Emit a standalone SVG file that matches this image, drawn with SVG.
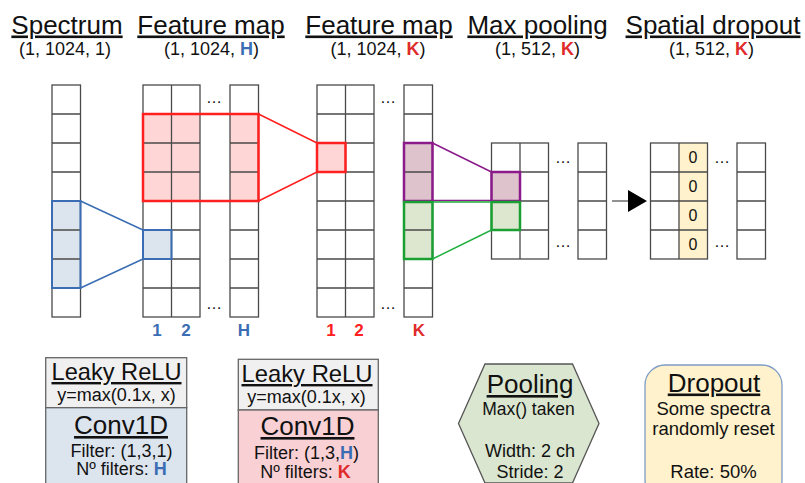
<svg xmlns="http://www.w3.org/2000/svg" width="805" height="483" viewBox="0 0 805 483">
<defs>
<style>
text{font-family:"Liberation Sans",Arial,sans-serif;fill:#111;text-anchor:middle}
.t{font-size:26px;text-decoration:underline}
.s{font-size:18px}
.m{font-size:18px}
.lb{font-size:17px;font-weight:bold}
.blue{fill:#3a6db3;font-weight:bold}
.red{fill:#e02b2b;font-weight:bold}
.grid{fill:none;stroke:#4a4a4a;stroke-width:1.3}
.dots{font-size:16px}
.z{font-size:16px}
</style>
<marker id="ah" markerUnits="userSpaceOnUse" markerWidth="20" markerHeight="24" refX="1" refY="12" orient="auto">
<path d="M0,1 L19,12 L0,23 Z" fill="#000"/>
</marker>
</defs>
<rect width="805" height="483" fill="#fff"/>

<g id="headers">
<text class="t" x="67" y="33.5">Spectrum</text>
<text class="s" x="65" y="55">(1, 1024, 1)</text>
<text class="t" x="211" y="33.5">Feature map</text>
<text class="s" x="211.5" y="55">(1, 1024, <tspan class="blue">H</tspan>)</text>
<text class="t" x="379" y="33.5">Feature map</text>
<text class="s" x="378" y="55">(1, 1024, <tspan class="red">K</tspan>)</text>
<text class="t" x="537.5" y="33.5">Max pooling</text>
<text class="s" x="537.5" y="55">(1, 512, <tspan class="red">K</tspan>)</text>
<text class="t" x="713" y="33.5">Spatial dropout</text>
<text class="s" x="711.5" y="55">(1, 512, <tspan class="red">K</tspan>)</text>
</g>

<g id="spectrum">
<rect x="52" y="201" width="28.5" height="87" fill="#dce4ee"/>
<rect class="grid" x="52" y="85" width="28.5" height="232"/>
<path class="grid" d="M52,114h28.5M52,143h28.5M52,172h28.5M52,201h28.5M52,230h28.5M52,259h28.5M52,288h28.5"/>
<rect x="52" y="201" width="28.5" height="87" fill="none" stroke="#3a6db3" stroke-width="2"/>
</g>

<g id="featuremap1">
<rect x="143" y="114" width="57" height="87" fill="#ffd6d6"/>
<rect x="230" y="114" width="28.5" height="87" fill="#ffd6d6"/>
<rect x="143" y="230" width="28.5" height="29" fill="#dce4ee"/>
<rect class="grid" x="143" y="85" width="57" height="232"/>
<rect class="grid" x="230" y="85" width="28.5" height="232"/>
<path class="grid" d="M171.5,85V317M143,114h57M143,143h57M143,172h57M143,201h57M143,230h57M143,259h57M143,288h57M230,114h28.5M230,143h28.5M230,172h28.5M230,201h28.5M230,230h28.5M230,259h28.5M230,288h28.5"/>
<rect x="143" y="114" width="115.5" height="87" fill="none" stroke="#ff2020" stroke-width="2.5"/>
<rect x="143" y="230" width="28.5" height="29" fill="none" stroke="#3a6db3" stroke-width="2"/>
<text class="dots" x="214" y="103">…</text>
<text class="dots" x="214" y="309">…</text>
<text class="lb" x="157" y="336" fill="#3a6db3" style="fill:#3a6db3">1</text>
<text class="lb" x="186" y="336" style="fill:#3a6db3">2</text>
<text class="lb" x="244" y="336" style="fill:#3a6db3">H</text>
</g>

<g id="featuremap2">
<rect x="317" y="143" width="28.5" height="29" fill="#ffd6d6"/>
<rect x="404" y="143" width="28.5" height="58" fill="#dfc3cc"/>
<rect x="404" y="201" width="28.5" height="58" fill="#dde7cf"/>
<rect class="grid" x="317" y="85" width="57" height="232"/>
<rect class="grid" x="404" y="85" width="28.5" height="232"/>
<path class="grid" d="M345.5,85V317M317,114h57M317,143h57M317,172h57M317,201h57M317,230h57M317,259h57M317,288h57M404,114h28.5M404,143h28.5M404,172h28.5M404,201h28.5M404,230h28.5M404,259h28.5M404,288h28.5"/>
<rect x="317" y="143" width="28.5" height="29" fill="none" stroke="#ff2020" stroke-width="2.5"/>
<rect x="404" y="143" width="28.5" height="58" fill="none" stroke="#8b1a8b" stroke-width="2.5"/>
<rect x="404" y="202" width="28.5" height="57" fill="none" stroke="#1aa032" stroke-width="2.5"/>
<text class="dots" x="388" y="103">…</text>
<text class="dots" x="388" y="309">…</text>
<text class="lb" x="331" y="336" style="fill:#ff2020">1</text>
<text class="lb" x="359" y="336" style="fill:#ff2020">2</text>
<text class="lb" x="419" y="336" style="fill:#e02b2b">K</text>
</g>

<g id="maxpooling">
<rect x="491.5" y="172" width="28.5" height="29" fill="#dfc3cc"/>
<rect x="491.5" y="201" width="28.5" height="29" fill="#dde7cf"/>
<rect class="grid" x="491.5" y="143" width="57" height="116"/>
<rect class="grid" x="578" y="143" width="28.5" height="116"/>
<path class="grid" d="M520,143V259M491.5,172h57M491.5,201h57M491.5,230h57M578,172h28.5M578,201h28.5M578,230h28.5"/>
<rect x="491.5" y="172" width="28.5" height="29" fill="none" stroke="#8b1a8b" stroke-width="2.5"/>
<rect x="491.5" y="202" width="28.5" height="28" fill="none" stroke="#1aa032" stroke-width="2.5"/>
<text class="dots" x="563" y="163">…</text>
<text class="dots" x="563" y="247">…</text>
</g>

<g id="dropout-map">
<rect x="679" y="143" width="28.5" height="116" fill="#fff2cc"/>
<rect class="grid" x="650.5" y="143" width="57" height="116"/>
<rect class="grid" x="737" y="143" width="28.5" height="116"/>
<path class="grid" d="M679,143V259M650.5,172h57M650.5,201h57M650.5,230h57M737,172h28.5M737,201h28.5M737,230h28.5"/>
<text class="z" x="693" y="163">0</text>
<text class="z" x="693" y="192">0</text>
<text class="z" x="693" y="221">0</text>
<text class="z" x="693" y="250">0</text>
<text class="dots" x="722" y="163">…</text>
<text class="dots" x="722" y="247">…</text>
</g>

<g id="connectors" fill="none" stroke-width="1.5">
<path d="M80.5,201L143,230M80.5,288L143,259" stroke="#3a6db3"/>
<path d="M258.5,114L317,143M258.5,201L317,172" stroke="#ff2020"/>
<path d="M432.5,143L491.5,172M432.5,200.5L491.5,200.5" stroke="#8b1a8b"/>
<path d="M432.5,202L491.5,202M432.5,259L491.5,230" stroke="#22b040"/>
<path d="M612,201H629" stroke="#555" stroke-width="1.3" marker-end="url(#ah)"/>
</g>

<g id="conv1">
<rect x="45.7" y="357.7" width="141" height="50" fill="#f0f0f0" stroke="#666" stroke-width="1.3"/>
<rect x="45.7" y="407.7" width="141" height="85" fill="#dce4ee" stroke="#666" stroke-width="1.3"/>
<text x="116.5" y="380" style="font-size:24px;text-decoration:underline" textLength="130" lengthAdjust="spacingAndGlyphs">Leaky ReLU</text>
<text class="m" x="116.5" y="400.5">y=max(0.1x, x)</text>
<text class="t" x="121" y="434">Conv1D</text>
<text class="m" x="121.5" y="456.5">Filter: (1,3,1)</text>
<text class="m" x="121.5" y="475">Nº filters: <tspan class="blue">H</tspan></text>
</g>

<g id="conv2">
<rect x="238.3" y="359.3" width="140" height="50.7" fill="#f0f0f0" stroke="#666" stroke-width="1.3"/>
<rect x="238.3" y="410" width="140" height="85" fill="#f9d0d4" stroke="#666" stroke-width="1.3"/>
<text x="307" y="382" style="font-size:24px;text-decoration:underline" textLength="131" lengthAdjust="spacingAndGlyphs">Leaky ReLU</text>
<text class="m" x="306.5" y="403">y=max(0.1x, x)</text>
<text class="t" x="307.5" y="435">Conv1D</text>
<text class="m" x="306.5" y="459">Filter: (1,3,<tspan class="blue">H</tspan>)</text>
<text class="m" x="305.5" y="478">Nº filters: <tspan class="red">K</tspan></text>
</g>

<g id="pooling">
<polygon points="485,364 572.5,364 599,423.5 572.5,483 485,483 458.5,423.5" fill="#dae6d0" stroke="#555" stroke-width="1.3"/>
<text class="t" x="530" y="393">Pooling</text>
<text class="m" x="528.5" y="415" style="font-size:17.5px">Max() taken</text>
<text class="m" x="530" y="456.5">Width: 2 ch</text>
<text class="m" x="530" y="478">Stride: 2</text>
</g>

<g id="dropout">
<rect x="645" y="365" width="137" height="135" rx="20" fill="#fff2cc" stroke="#7d9bc6" stroke-width="1.3"/>
<text class="t" x="714" y="391.5">Dropout</text>
<text class="m" x="713.5" y="415" style="font-size:18.5px">Some spectra</text>
<text class="m" x="713.5" y="435" style="font-size:18.5px">randomly reset</text>
<text class="m" x="713.5" y="478" style="font-size:18.5px">Rate: 50%</text>
</g>
</svg>
